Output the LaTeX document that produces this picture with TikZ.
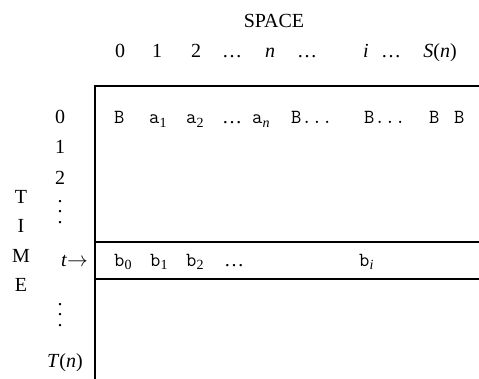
\documentclass[tikz,border=0pt]{standalone}
\usepackage{fontspec}
\setmainfont{Liberation Serif}
\usetikzlibrary{positioning}
\newcommand{\tapedots}{\vbox{\baselineskip=10.5pt\lineskiplimit=0pt\hbox{.}\hbox{.}\hbox{.}}}

\begin{document}
\begin{tikzpicture}[
        x=1pt, y=-1pt,
        every node/.style={inner sep=0pt, font=\fontsize{20}{24}\selectfont},
        lbl/.style={anchor=base},
        cell/.style={anchor=base west, font=\fontsize{20}{24}\selectfont\ttfamily}
    ]
        \useasboundingbox (0,0) rectangle (479,379);
        \draw[line width=1.3pt] (479,86) -- (95,86) -- (95,379);
        \draw[line width=1.3pt] (95,242) -- (479,242);
        \draw[line width=1.3pt] (95,279) -- (479,279);

        \node[lbl] (space) at (274,28) {SPACE};

        \node[lbl] (c0) at (120,58) {0};
        \node[lbl] (c1) at (157,58) {1};
        \node[lbl] (c2) at (196,58) {2};
        \node[lbl] (cd1) at (232,58) {\dots};
        \node[lbl] (cn) at (270,58) {\textit{n}};
        \node[lbl] (cd2) at (307,58) {\dots};
        \node[lbl] (ci) at (366,58) {\textit{i}};
        \node[lbl] (cd3) at (391,58) {\dots};
        \node[lbl] (cs) at (440,58) {\textit{S}(\textit{n})};

        \node[lbl] (r0) at (60,124) {0};
        \node[lbl] (r1) at (60,154) {1};
        \node[lbl] (r2) at (60,185) {2};
        \node (rd1) at (60,212) {\tapedots};
        \node[anchor=base east] (rt) at (88,266) {\textit{t}$\rightarrow$};
        \node (rd2) at (60,315) {\tapedots};
        \node[anchor=base east] (rT) at (83,367) {\textit{T}(\textit{n})};

        \node[lbl] (tT) at (21,204) {T};
        \node[lbl] (tI) at (21,233) {I};
        \node[lbl] (tM) at (21,262) {M};
        \node[lbl] (tE) at (21,291) {E};

        \node[cell] (a0) at (114,124) {B};
        \node[cell] (a1) at (149,124) {a\textsubscript{\rmfamily 1}};
        \node[cell] (a2) at (186,124) {a\textsubscript{\rmfamily 2}};
        \node[cell, font=\fontsize{20}{24}\selectfont] (ad) at (222,124) {\dots};
        \node[cell] (an) at (252,124) {a\textsubscript{\rmfamily\itshape n}};
        \node[cell] (ab1) at (291,124) {B...};
        \node[cell] (ab2) at (364,124) {B...};
        \node[cell] (ab3) at (429,124) {B};
        \node[cell] (ab4) at (454,124) {B};

        \node[cell] (b0) at (114,266) {b\textsubscript{\rmfamily 0}};
        \node[cell] (b1) at (150,266) {b\textsubscript{\rmfamily 1}};
        \node[cell] (b2) at (186,266) {b\textsubscript{\rmfamily 2}};
        \node[cell, font=\fontsize{20}{24}\selectfont] (bd) at (224,266) {\dots};
        \node[cell] (bi) at (359,266) {b\textsubscript{\rmfamily\itshape i}};
    \end{tikzpicture}
\end{document}
